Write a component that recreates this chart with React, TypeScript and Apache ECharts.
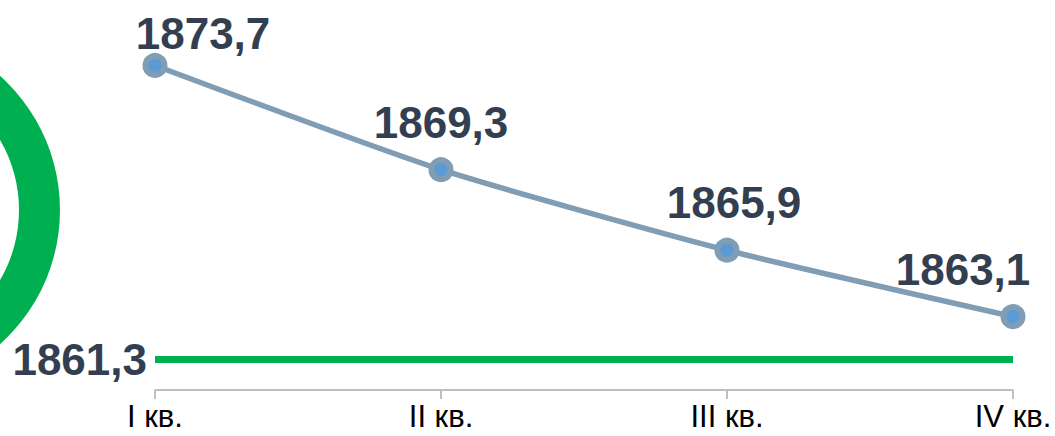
import React, { useEffect, useRef } from "react";
import * as echarts from "echarts";

const categories = ["I кв.", "II кв.", "III кв.", "IV кв."];
const values = [1873.7, 1869.3, 1865.9, 1863.1];
const baselineValue = 1861.3;
const labelOffsets = [[48, 8], [0, -8], [7, -8], [-50, -8]];

const fmt = (v: number) => v.toFixed(1).replace(".", ",");

export default function App() {
  const ref = useRef<HTMLDivElement>(null);
  useEffect(() => {
    document.body.style.margin = "0";
    const chart = echarts.init(ref.current!, null, { renderer: "svg" });
    chart.setOption({
      animation: false,
      grid: { left: 155, right: 42, top: 11, bottom: 46 },
      xAxis: {
        type: "category",
        data: categories,
        boundaryGap: false,
        axisLine: { lineStyle: { color: "#bfbfbf", width: 2 } },
        axisTick: { show: true, length: 9, lineStyle: { color: "#bfbfbf", width: 2 } },
        axisLabel: {
          color: "#000",
          fontSize: 31,
          fontFamily: "Liberation Sans, Arial, sans-serif",
          margin: 11,
        },
      },
      yAxis: {
        type: "value",
        min: 1860,
        max: 1876,
        show: false,
        splitLine: { show: false },
      },
      graphic: [
        {
          type: "ring",
          shape: { cx: -120, cy: 210, r: 180, r0: 139 },
          style: { fill: "#00b050" },
          silent: true,
        },
      ],
      series: [
        {
          type: "line",
          data: values.map((v, i) => ({
            value: v,
            label: { offset: labelOffsets[i] },
          })),
          smooth: 0.2,
          symbol: "circle",
          symbolSize: 19,
          lineStyle: { color: "#7f9db5", width: 5.5 },
          itemStyle: { color: "#5b9bd5", borderColor: "#7f9db5", borderWidth: 6 },
          label: {
            show: true,
            position: "top",
            distance: 5,
            formatter: (p: any) => fmt(p.value),
            fontSize: 44,
            fontWeight: "bold",
            color: "#333f50",
            fontFamily: "Liberation Sans, Arial, sans-serif",
          },
          markLine: {
            silent: true,
            symbol: "none",
            lineStyle: { color: "#00b050", width: 7, type: "solid" },
            label: {
              show: true,
              position: "start",
              distance: 8,
              formatter: () => fmt(baselineValue),
              fontSize: 44,
              fontWeight: "bold",
              color: "#333f50",
              fontFamily: "Liberation Sans, Arial, sans-serif",
            },
            data: [{ yAxis: baselineValue }],
          },
          z: 3,
        },
      ],
    });
    return () => chart.dispose();
  }, []);
  return (
    <div
      ref={ref}
      style={{ position: "absolute", left: 0, top: 0, width: 1055, height: 436 }}
    />
  );
}
